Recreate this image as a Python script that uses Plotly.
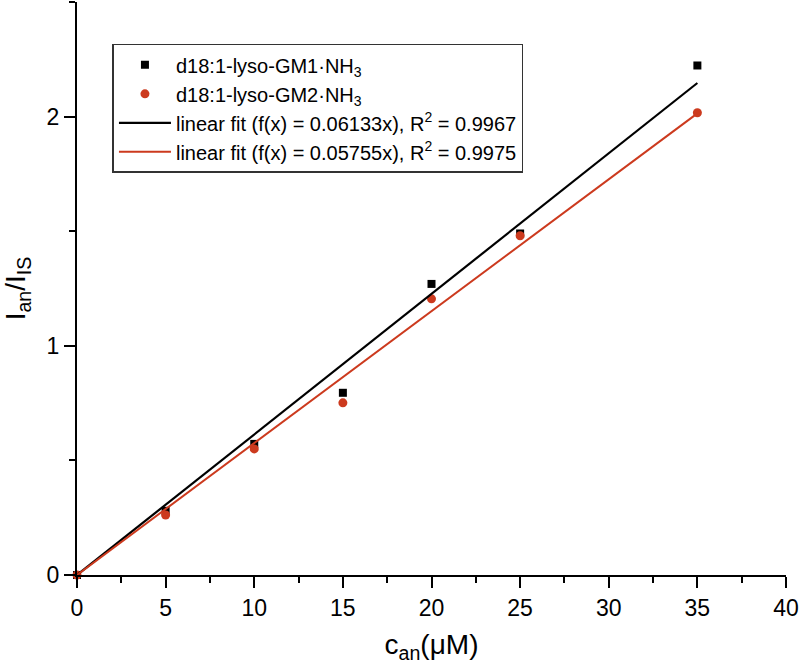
import plotly.graph_objects as go

conc = [0, 5, 10, 15, 20, 25, 35]
gm1 = [0.0, 0.28, 0.572, 0.795, 1.27, 1.49, 2.223]
gm2 = [0.0, 0.262, 0.55, 0.751, 1.205, 1.48, 2.017]
fit_x = [0, 35]
slope_gm1 = 0.06133
slope_gm2 = 0.05755
r2_gm1 = "0.9967"
r2_gm2 = "0.9975"

BLACK = "#000000"
RED = "#cc3a1e"
FONT = "Liberation Sans, Arial, sans-serif"

fig = go.Figure()
fig.add_trace(go.Scatter(x=conc, y=gm1, mode="markers",
                         marker=dict(symbol="square", size=8, color=BLACK),
                         name="d18:1-lyso-GM1·NH<sub>3</sub>", cliponaxis=False))
fig.add_trace(go.Scatter(x=conc, y=gm2, mode="markers",
                         marker=dict(symbol="circle", size=9, color=RED),
                         name="d18:1-lyso-GM2·NH<sub>3</sub>", cliponaxis=False))
fig.add_trace(go.Scatter(x=fit_x, y=[slope_gm1 * v for v in fit_x], mode="lines",
                         line=dict(color=BLACK, width=2.2),
                         name=f"linear fit (f(x) = {slope_gm1}x), R<sup>2</sup> = {r2_gm1}"))
fig.add_trace(go.Scatter(x=fit_x, y=[slope_gm2 * v for v in fit_x], mode="lines",
                         line=dict(color=RED, width=2),
                         name=f"linear fit (f(x) = {slope_gm2}x), R<sup>2</sup> = {r2_gm2}"))

axis_common = dict(
    showline=True, linecolor=BLACK, linewidth=2, showgrid=False, zeroline=False,
    ticks="outside", ticklen=11, tickwidth=2, tickcolor=BLACK, automargin=False,
    tickfont=dict(family=FONT, size=23, color=BLACK),
    minor=dict(ticks="outside", ticklen=6, tickwidth=2, tickcolor=BLACK, showgrid=False),
)

fig.update_xaxes(range=[0, 40], dtick=5, minor_dtick=2.5,
                 title=dict(text="c<sub>an</sub>(μM)",
                            font=dict(family=FONT, size=28, color=BLACK)),
                 **axis_common)
fig.update_yaxes(range=[0, 2.5], dtick=1, minor_dtick=0.5,
                 title=dict(text="I<sub>an</sub>/I<sub>IS</sub>",
                            font=dict(family=FONT, size=28, color=BLACK)),
                 **axis_common)

fig.update_layout(
    width=800, height=669,
    margin=dict(l=77, r=14, t=2, b=94),
    paper_bgcolor="white", plot_bgcolor="white",
    font=dict(family=FONT, color=BLACK),
    legend=dict(x=0.05, y=0.927, xanchor="left", yanchor="top",
                bgcolor="white", bordercolor="#333333", borderwidth=1.5,
                itemwidth=52,
                font=dict(size=20, color=BLACK), tracegroupgap=0),
    showlegend=True,
)

fig.write_html("out.html", config={"displayModeBar": False},
               post_script="document.body.style.margin='0';document.body.style.padding='0';")
